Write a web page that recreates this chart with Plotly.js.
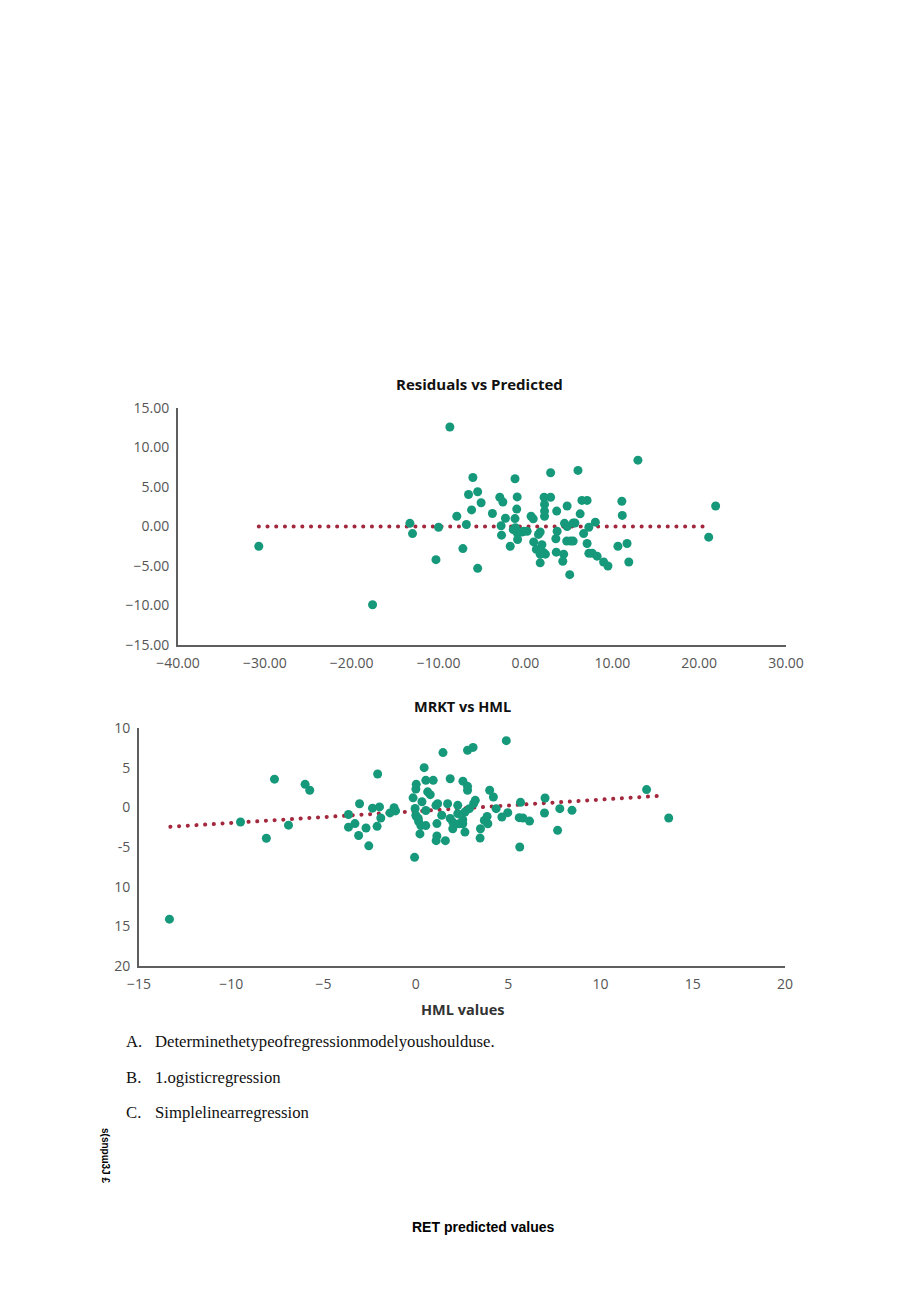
<!DOCTYPE html>
<html>
<head>
<meta charset="utf-8">
<script src="https://cdn.plot.ly/plotly-3.0.1.min.js"></script>
<style>html,body{margin:0;padding:0;background:#fff;}#chart{width:920px;height:1301px;}</style>
</head>
<body>
<div id="chart"></div>
<script>
// ---- Chart 1: Residuals vs Predicted ----
const predX = [-30.7,-17.6,-13.3,-13.0,-10.3,-10.0,-8.7,-7.9,-7.2,-6.8,-6.55,-6.05,-6.2,-5.5,-5.1,-5.5,-3.8,-2.95,-2.6,-2.3,-2.8,-2.75,-1.75,-1.2,-0.95,-1.0,-1.2,-1.4,-0.95,-0.9,-0.4,0.2,0.65,0.9,0.95,1.26,1.5,1.7,1.9,2.1,1.7,2.3,2.15,2.9,2.2,2.2,2.2,2.9,3.6,3.65,3.5,3.55,4.4,4.3,4.5,4.8,4.8,4.75,5.2,5.5,5.1,5.5,5.7,6.05,6.3,6.5,7.1,6.7,7.1,7.3,7.3,7.7,8.05,8.25,9.0,9.5,10.65,11.1,11.15,11.7,11.9,12.95,21.1,21.9,-1.15,-0.2,1.7];
const residY = [-2.5,-9.9,0.4,-0.9,-4.2,-0.1,12.6,1.3,-2.8,0.25,4.05,6.2,2.1,4.4,3.0,-5.3,1.65,3.7,3.1,1.05,0.1,-1.1,-2.5,6.05,3.75,2.2,1.0,-0.4,-0.8,-1.65,-0.7,-0.6,1.3,0.97,-1.95,-2.9,-1.0,-0.7,-2.3,-3.3,-4.6,-3.5,3.7,3.7,2.8,1.95,1.3,6.8,1.95,-0.6,-1.55,-3.25,-3.5,-4.4,0.4,2.6,0.0,-1.85,-1.85,-1.85,-6.1,0.45,0.45,7.1,1.6,3.3,3.3,-0.9,-2.15,-0.1,-3.4,-3.4,0.55,-3.75,-4.5,-5.0,-2.5,3.2,1.4,-2.15,-4.5,8.4,-1.35,2.6,-0.15,-0.6,-3.5];
const trend1X = [-30.7, 21.3];
const trend1Y = [0.0, 0.0];

// ---- Chart 2: MRKT vs HML ----
const hmlX = [-13.35,-9.5,-8.1,-7.66,-6.9,-6.0,-5.75,-3.65,-3.65,-3.3,-3.05,-3.1,-2.7,-2.55,-2.35,-2.1,-2.07,-1.97,-1.9,-1.4,-1.18,-1.1,-0.07,-0.15,0.0,0.02,-0.04,0.04,0.15,0.27,0.22,0.45,0.54,0.94,0.33,0.64,0.78,0.54,0.54,1.14,1.09,1.18,1.4,1.14,1.1,1.6,1.47,1.86,1.72,1.86,2.0,2.0,2.27,2.27,2.35,2.8,3.1,4.9,2.55,2.8,2.8,4.0,4.2,5.67,7.0,12.5,13.7,7.8,6.97,8.46,7.68,5.63,5.6,6.16,5.8,4.66,4.98,4.35,3.22,3.13,3.86,3.71,3.9,3.5,3.48,2.66,2.54,2.54,2.66,2.9,0.0,0.13];
const mrktY = [-14.1,-1.85,-3.9,3.55,-2.25,2.9,2.15,-0.9,-2.5,-2.05,0.45,-3.55,-2.6,-4.85,-0.1,-2.4,4.2,0.05,-1.35,-0.7,-0.05,-0.45,-6.3,1.2,2.3,2.9,-0.15,-1.2,-1.8,-2.3,-3.35,5.0,3.4,3.4,0.7,1.95,1.6,-0.4,-2.3,-2.05,0.25,0.45,-1.0,-3.6,-4.2,-4.2,6.9,3.6,0.45,-1.4,-2.7,-1.86,0.25,-0.8,-2.07,7.2,7.55,8.4,3.3,2.65,2.15,2.15,1.3,0.63,1.18,2.24,-1.35,-0.17,-0.72,-0.38,-2.9,-5.0,-1.3,-1.73,-1.35,-1.22,-0.67,-0.17,0.88,0.46,-1.14,-1.65,-2.07,-2.7,-3.88,-3.12,-2.07,-1.56,-0.59,-0.17,-1.0,-1.4];
const trend2X = [-13.3, 13.25];
const trend2Y = [-2.45, 1.45];

const yTicks2 = [-20,-15,-10,-5,0,5,10];
const yTickText2 = ["20","15","10","-5","0","5","10"];
const xTicks2 = [-15,-10,-5,0,5,10,15,20];
const xTickText2 = ["\u221215","\u221210","\u22125","0","5","10","15","20"];

const textLines = [
  {label: "A.", text: "Determinethetypeofregressionmodelyoushoulduse."},
  {label: "B.", text: "1.ogisticregression"},
  {label: "C.", text: "Simplelinearregression"}
];

const W = 920, H = 1301;
const px = v => v / W;
const py = v => 1 - v / H;

const green = '#15997a';
const red = '#a3283d';
const tickFont = {family: 'Open Sans, sans-serif', size: 14, color: '#555555'};
const titleFont = {family: 'Open Sans, sans-serif', size: 15, color: '#111'};

const axisCommon = {
  showgrid: false, zeroline: false, showline: true,
  linecolor: '#5e5e5e', linewidth: 2, ticks: '', tickfont: tickFont,
  fixedrange: true
};

const traces = [
  {x: trend1X, y: trend1Y, xaxis: 'x', yaxis: 'y', mode: 'lines',
   line: {color: red, width: 4, dash: 'dot'}, hoverinfo: 'skip'},
  {x: predX, y: residY, xaxis: 'x', yaxis: 'y', mode: 'markers',
   marker: {color: green, size: 9, line: {width: 0}}},
  {x: trend2X, y: trend2Y, xaxis: 'x2', yaxis: 'y2', mode: 'lines',
   line: {color: red, width: 4, dash: 'dot'}, hoverinfo: 'skip'},
  {x: hmlX, y: mrktY, xaxis: 'x2', yaxis: 'y2', mode: 'markers',
   marker: {color: green, size: 9, line: {width: 0}}}
];

const annotations = [
  {text: '<b>Residuals vs Predicted</b>', x: px(479), y: py(384), font: titleFont},
  {text: '<b>MRKT vs HML</b>', x: px(462), y: py(706), font: {family: 'Open Sans, sans-serif', size: 14.5, color: '#111'}},
  {text: '<b>HML values</b>', x: px(462), y: py(1009), font: {family: 'Open Sans, sans-serif', size: 14.5, color: '#333'}},
  {text: '<b>RET predicted values</b>', x: px(483), y: py(1227), font: {family: 'Liberation Sans, Arial, sans-serif', size: 14, color: '#000'}},
  {text: '<b>s(snpɯ3J £</b>', x: px(106), y: py(1155), textangle: 90, font: {family: 'Liberation Sans, Arial, sans-serif', size: 10, color: '#000'}}
];
const lineYs = [1041, 1077, 1112];
textLines.forEach((t, i) => {
  const serif = {family: 'Liberation Serif, serif', size: 16.7, color: '#111'};
  annotations.push({text: t.label, x: px(124), y: py(lineYs[i]), xanchor: 'left', font: serif});
  annotations.push({text: t.text, x: px(153), y: py(lineYs[i]), xanchor: 'left', font: serif});
});
annotations.forEach(a => {
  a.xref = 'paper'; a.yref = 'paper'; a.showarrow = false;
  if (!a.xanchor) a.xanchor = 'center';
  a.yanchor = 'middle';
});

const layout = {
  width: W, height: H,
  margin: {l: 0, r: 0, t: 0, b: 0},
  paper_bgcolor: '#fff', plot_bgcolor: '#fff',
  showlegend: false,
  xaxis: Object.assign({}, axisCommon, {domain: [px(178), px(786)], range: [-40, 30], dtick: 10, tick0: 0, tickformat: '.2f', anchor: 'y', ticklabelstandoff: 4}),
  yaxis: Object.assign({}, axisCommon, {domain: [py(645), py(408)], range: [-15, 15], dtick: 5, tick0: 0, tickformat: '.2f', anchor: 'x', ticklabelstandoff: 4}),
  xaxis2: Object.assign({}, axisCommon, {domain: [px(139), px(785)], range: [-15, 20], tickmode: 'array', tickvals: xTicks2, ticktext: xTickText2, anchor: 'y2', ticklabelstandoff: 4}),
  yaxis2: Object.assign({}, axisCommon, {domain: [py(966), py(728)], range: [-20, 10], tickmode: 'array', tickvals: yTicks2, ticktext: yTickText2, anchor: 'x2', ticklabelstandoff: 4}),
  annotations: annotations
};

Plotly.newPlot('chart', traces, layout, {displayModeBar: false, staticPlot: true}).then(gd => {
  // render the dotted trend lines as round dots like the reference
  gd.querySelectorAll('.scatterlayer .trace path.js-line').forEach(p => {
    if (p.style.stroke && p.getAttribute('d')) {
      const s = p.style;
      if (s.strokeDasharray && s.strokeDasharray !== 'none') {
        s.strokeLinecap = 'round';
        s.strokeDasharray = '0.1px, 8.6px';
      }
    }
  });
});
</script>
</body>
</html>
